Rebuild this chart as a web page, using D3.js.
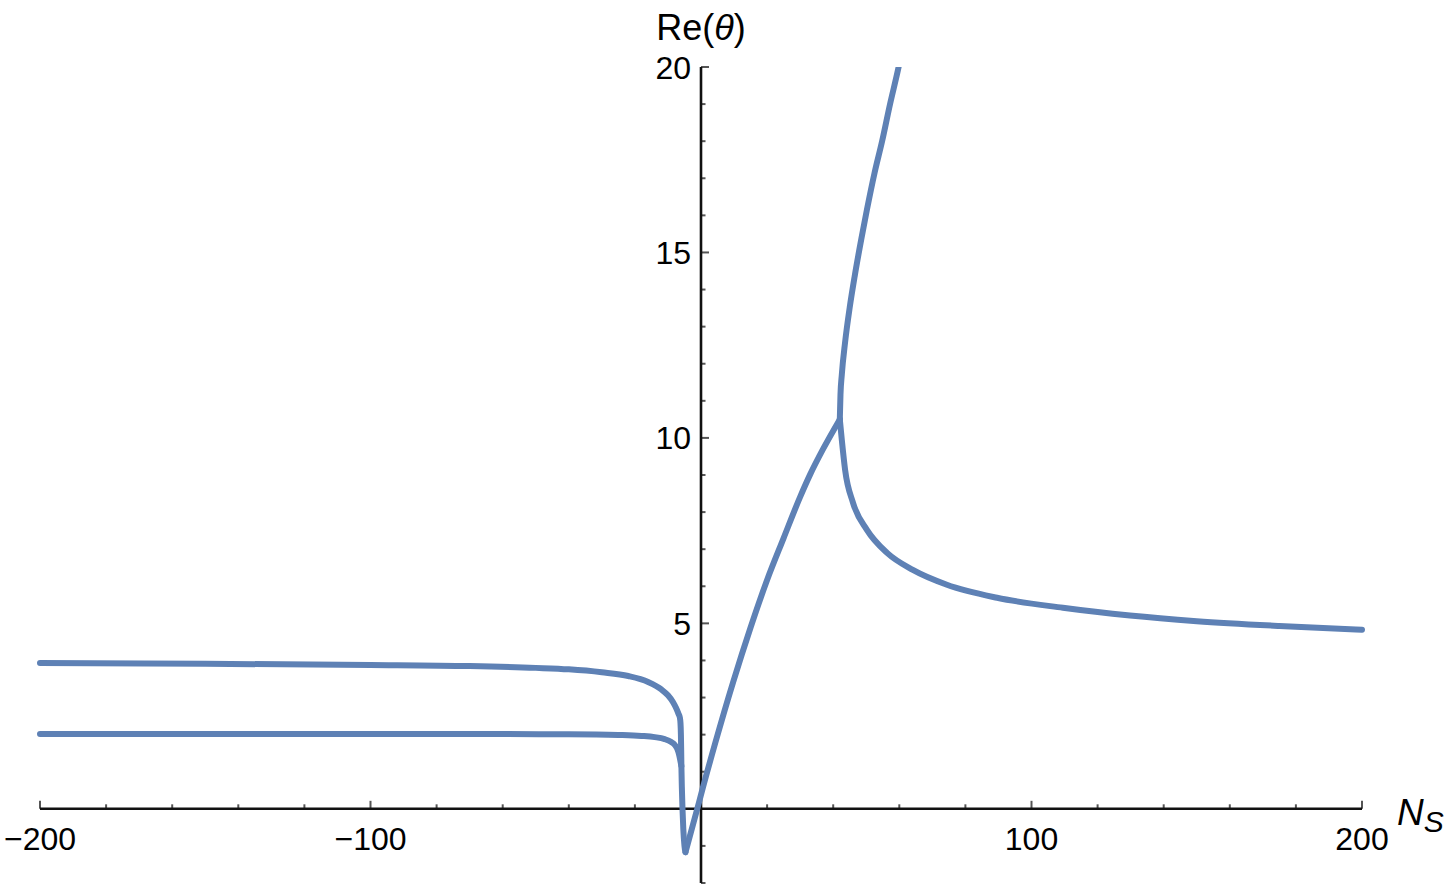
<!DOCTYPE html>
<html>
<head>
<meta charset="utf-8">
<script src="https://cdn.jsdelivr.net/npm/d3@7"></script>
<style>
  html, body { margin: 0; padding: 0; background: #fff; }
  svg { display: block; }
  text { font-family: "Liberation Sans", Arial, Helvetica, sans-serif; fill: #000; }
</style>
</head>
<body>
<svg id="chart" width="1448" height="888"></svg>
<script>
// ---- data ----
// upper-left branch, falls steeply into the dip near N = -5
const upperLeftN = [-200, -150, -100, -70, -50, -40, -30, -22, -16, -12, -10, -8.5, -7.5, -6.8, -6.4, -6.2, -6.08, -6.0, -5.93, -5.8, -5.6, -5.35, -5.0, -4.7];
const upperLeftV = [3.93, 3.91, 3.88, 3.85, 3.80, 3.76, 3.68, 3.58, 3.42, 3.22, 3.06, 2.88, 2.71, 2.56, 2.46, 2.30, 2.00, 1.60, 1.15, 0.60, 0.00, -0.55, -1.00, -1.17];
// lower-left branch, joins the steep descent
const lowerLeftN = [-200, -150, -100, -60, -40, -25, -18, -14, -11, -9, -8, -7.2, -6.6, -6.2, -5.93];
const lowerLeftV = [2.02, 2.02, 2.02, 2.015, 2.01, 1.99, 1.965, 1.933, 1.88, 1.80, 1.73, 1.62, 1.45, 1.28, 1.15];
// rising branch from the dip to the cusp
const risingN = [-4.7, -1, 0, 4.2, 9.7, 15, 20, 25, 30, 33, 37, 42];
const risingV = [-1.17, 0.04, 0.38, 1.74, 3.41, 4.89, 6.17, 7.30, 8.41, 9.01, 9.71, 10.50];
// branch leaving the cusp upward
const upN = [42, 42.2, 42.6, 43.6, 45, 46.5, 48.5, 50.2, 52.5, 54.8, 57.2, 59.6, 60.5];
const upV = [10.5, 11.16, 11.7, 12.58, 13.52, 14.36, 15.36, 16.15, 17.14, 18.0, 19.0, 19.92, 20.3];
// branch leaving the cusp downward and decaying
const downN = [42, 42.6, 43.6, 46.0, 50.2, 56.3, 64.1, 74.4, 89.6, 109.5, 129.8, 150, 175, 200];
const downV = [10.5, 9.95, 9.14, 8.25, 7.52, 6.90, 6.44, 6.04, 5.69, 5.42, 5.21, 5.06, 4.93, 4.83];

const xDomain = [-200, 200];
const yDomain = [-2, 20];
const xMajorTicks = [-200, -100, 100, 200];
const xTickLabels = ["\u2212200", "\u2212100", "100", "200"];
const yMajorTicks = [5, 10, 15, 20];
const yTickLabels = ["5", "10", "15", "20"];
const xMinorStep = 20;
const yMinorStep = 1;

// ---- drawing ----
const svg = d3.select("#chart");
const x = d3.scaleLinear().domain(xDomain).range([40, 1362]);
const y = d3.scaleLinear().domain(yDomain).range([883, 67]);

const lineColor = "#5e81b5";
const tickColor = "#555";

svg.append("defs").append("clipPath").attr("id", "clip")
  .append("rect").attr("x", 0).attr("y", y(20)).attr("width", 1448).attr("height", 888 - y(20));

// x axis ticks
const xMinor = d3.range(xDomain[0], xDomain[1] + 0.001, xMinorStep).filter(v => !xMajorTicks.includes(v) && v !== 0);
const gx = svg.append("g");
gx.selectAll("line.minor").data(xMinor).join("line")
  .attr("x1", d => x(d)).attr("x2", d => x(d))
  .attr("y1", y(0)).attr("y2", y(0) - 4.5)
  .attr("stroke", tickColor).attr("stroke-width", 2);
gx.selectAll("line.major").data(xMajorTicks).join("line")
  .attr("x1", d => x(d)).attr("x2", d => x(d))
  .attr("y1", y(0)).attr("y2", y(0) - 8)
  .attr("stroke", tickColor).attr("stroke-width", 2);
gx.selectAll("text").data(xMajorTicks).join("text")
  .attr("x", d => x(d)).attr("y", y(0) + 41)
  .attr("text-anchor", "middle").attr("font-size", 32)
  .text((d, i) => xTickLabels[i]);

// y axis ticks
const yMinor = d3.range(yDomain[0], yDomain[1] + 0.001, yMinorStep).filter(v => !yMajorTicks.includes(v) && v !== 0);
const gy = svg.append("g");
gy.selectAll("line.minor").data(yMinor).join("line")
  .attr("x1", x(0)).attr("x2", x(0) + 4.5)
  .attr("y1", d => y(d)).attr("y2", d => y(d))
  .attr("stroke", tickColor).attr("stroke-width", 2);
gy.selectAll("line.major").data(yMajorTicks).join("line")
  .attr("x1", x(0)).attr("x2", x(0) + 8)
  .attr("y1", d => y(d)).attr("y2", d => y(d))
  .attr("stroke", tickColor).attr("stroke-width", 2);
gy.selectAll("text").data(yMajorTicks).join("text")
  .attr("x", x(0) - 10).attr("y", d => y(d) + 11.5)
  .attr("text-anchor", "end").attr("font-size", 32)
  .text((d, i) => yTickLabels[i]);

// axis lines
svg.append("line").attr("x1", x(xDomain[0])).attr("x2", x(xDomain[1]))
  .attr("y1", y(0)).attr("y2", y(0)).attr("stroke", "#111").attr("stroke-width", 2.6);
svg.append("line").attr("x1", x(0)).attr("x2", x(0))
  .attr("y1", y(yDomain[0])).attr("y2", y(yDomain[1])).attr("stroke", "#111").attr("stroke-width", 2.6);

// curves
const mk = (ns, vs) => ns.map((n, i) => [n, vs[i]]);
const series = [
  mk(upperLeftN, upperLeftV),
  mk(lowerLeftN, lowerLeftV),
  mk(risingN, risingV),
  mk(upN, upV),
  mk(downN, downV)
];
const line = d3.line().x(d => x(d[0])).y(d => y(d[1])).curve(d3.curveMonotoneX);
svg.append("g").attr("clip-path", "url(#clip)")
  .selectAll("path").data(series).join("path")
  .attr("d", line)
  .attr("fill", "none").attr("stroke", lineColor).attr("stroke-width", 6)
  .attr("stroke-linejoin", "round").attr("stroke-linecap", "round");

// axis labels
const yl = svg.append("text").attr("x", x(0)).attr("y", 40)
  .attr("text-anchor", "middle").attr("font-size", 36);
yl.append("tspan").text("Re(");
yl.append("tspan").attr("font-style", "italic").text("\u03B8");
yl.append("tspan").text(")");

const xl = svg.append("text").attr("x", 1397).attr("y", 825).attr("font-size", 37).attr("font-style", "italic");
xl.append("tspan").text("N");
xl.append("tspan").attr("font-size", 30).attr("dy", 7).text("S");
</script>
</body>
</html>
